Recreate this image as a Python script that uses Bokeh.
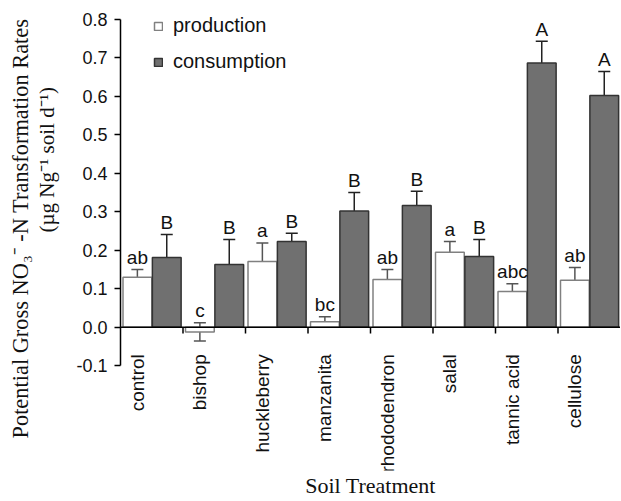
import math
from bokeh.plotting import figure
from bokeh.models import (ColumnDataSource, FixedTicker, Whisker, TeeHead, Legend,
                          LegendItem, Range1d, Title, CustomJSTickFormatter)
from bokeh.core.properties import value
from bokeh.embed import file_html
from bokeh.resources import INLINE

treatments = ["control", "bishop", "huckleberry", "manzanita", "rhododendron",
              "salal", "tannic acid", "cellulose"]
production = [0.130, -0.012, 0.171, 0.014, 0.124, 0.195, 0.093, 0.122]
production_err = [0.020, 0.024, 0.048, 0.013, 0.026, 0.028, 0.020, 0.033]
consumption = [0.181, 0.163, 0.223, 0.302, 0.316, 0.184, 0.686, 0.602]
consumption_err = [0.060, 0.065, 0.021, 0.048, 0.037, 0.044, 0.057, 0.062]
production_letters = ["ab", "c", "a", "bc", "ab", "a", "abc", "ab"]
consumption_letters = ["B", "B", "B", "B", "B", "B", "A", "A"]
y_ticks = [-0.1, 0.0, 0.1, 0.2, 0.3, 0.4, 0.5, 0.6, 0.7, 0.8]
y_title_1 = "Potential Gross NO\u2083\u207b -N Transformation Rates"
y_title_2 = "(\u00b5g Ng\u207b\u00b9 soil d\u207b\u00b9)"
x_title = "Soil Treatment"

n = len(treatments)
idx = list(range(n))
px = [i + 0.27 for i in idx]
cx = [i + 0.74 for i in idx]
bw = 0.46

prod_src = ColumnDataSource(dict(
    x=px, top=production,
    upper=[v + e for v, e in zip(production, production_err)],
    lower=[v - e for v, e in zip(production, production_err)],
    label=production_letters,
))
cons_src = ColumnDataSource(dict(
    x=cx, top=consumption,
    upper=[v + e for v, e in zip(consumption, consumption_err)],
    lower=[v - e for v, e in zip(consumption, consumption_err)],
    label=consumption_letters,
))
lab_src = ColumnDataSource(dict(x=px, y=[0.0] * n, text=treatments))

SANS = value("Liberation Sans")

p = figure(frame_width=500, frame_height=459,
           x_range=Range1d(0, n), y_range=Range1d(-0.372, 0.82),
           output_backend="svg", toolbar_location=None,
           min_border_left=120, min_border_right=0, min_border_top=11,
           min_border_bottom=0, outline_line_color=None,
           background_fill_color="white", border_fill_color="white")
p.grid.visible = False

r_prod = p.vbar(x="x", top="top", bottom=0, width=bw, source=prod_src,
                fill_color="white", line_color="#808080", line_width=1.5)
r_cons = p.vbar(x="x", top="top", bottom=0, width=bw, source=cons_src,
                fill_color="#707070", line_color="#333333", line_width=1.5)

for src, col in ((prod_src, "#555555"), (cons_src, "#222222")):
    w = Whisker(source=src, base="x", upper="upper", lower="lower",
                line_color=col, line_width=1.5,
                upper_head=TeeHead(size=12, line_color=col, line_width=1.5),
                lower_head=TeeHead(size=12, line_color=col, line_width=1.5))
    p.add_layout(w)

for src in (prod_src, cons_src):
    p.text(x="x", y="upper", text="label", source=src, text_align="center",
           text_baseline="alphabetic", y_offset=-12, text_font=SANS,
           text_font_size="19px", text_color="#111111")

# zero line and group ticks
p.segment(x0=[0], y0=[0], x1=[n], y1=[0], line_color="black", line_width=1.5)
p.segment(x0=idx[1:], y0=[0] * (n - 1), x1=idx[1:], y1=[-0.016] * (n - 1),
          line_color="black", line_width=1.5)

# category labels (vertical)
p.text(x="x", y="y", text="text", source=lab_src, angle=math.pi / 2,
       text_align="right", text_baseline="middle", y_offset=27,
       text_font=SANS, text_font_size="19px", text_color="#111111")

# y axis
ya = p.yaxis[0]
ya.ticker = FixedTicker(ticks=y_ticks)
ya.bounds = (-0.1, 0.8)
ya.formatter = CustomJSTickFormatter(code="return tick.toFixed(1);")
ya.major_label_text_font = "Liberation Sans"
ya.major_label_text_font_size = "18px"
ya.major_label_text_color = "#111111"
ya.major_tick_out = 6
ya.major_tick_in = 0
ya.minor_tick_out = 0
ya.minor_tick_in = 0
ya.major_label_standoff = 7
ya.axis_line_width = 1.5
ya.major_tick_line_width = 1.5
# blank spacer label to leave a gap before the title lines
ya.axis_label = "\u00a0"
ya.axis_label_text_font_size = "9px"
ya.axis_label_standoff = 2

# y title: two rotated lines placed as side titles
t2 = Title(text=y_title_2, align="left", offset=238, standoff=0,
           text_font="Liberation Serif", text_font_size="21px",
           text_font_style="normal", text_color="#111111")
t1 = Title(text=y_title_1, align="left", offset=32, standoff=0,
           text_font="Liberation Serif", text_font_size="22.4px",
           text_font_style="normal", text_color="#111111")
p.add_layout(t2, "left")
p.add_layout(t1, "left")

# x axis: only the title
xa = p.xaxis[0]
xa.ticker = FixedTicker(ticks=[])
xa.axis_line_color = None
xa.major_tick_line_color = None
xa.minor_tick_line_color = None
xa.major_label_text_font_size = "0px"
xa.axis_label = x_title
xa.axis_label_text_font = "Liberation Serif"
xa.axis_label_text_font_size = "22px"
xa.axis_label_text_font_style = "normal"
xa.axis_label_standoff = 2
xa.axis_label_text_color = "#111111"

legend = Legend(items=[LegendItem(label="production", renderers=[r_prod]),
                       LegendItem(label="consumption", renderers=[r_cons])],
                location=(33, 397), orientation="vertical",
                glyph_width=10, glyph_height=10, label_height=20,
                label_standoff=10, spacing=13, padding=0, margin=0,
                border_line_color=None, background_fill_alpha=0,
                label_text_font="Liberation Sans", label_text_font_size="20px",
                label_text_color="#111111")
p.add_layout(legend)

open("out.html", "w").write(file_html(p, INLINE))
